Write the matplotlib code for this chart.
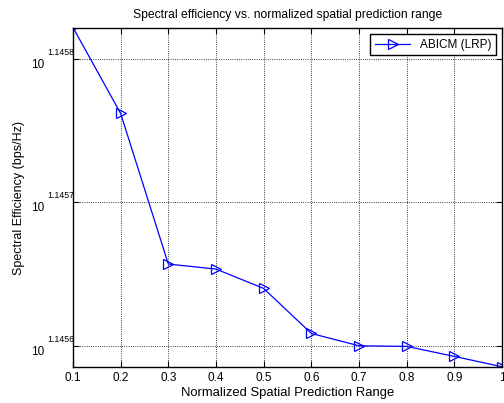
import numpy as np
import matplotlib
matplotlib.use("Agg")
import matplotlib.pyplot as plt
import matplotlib.transforms as mtransforms
from matplotlib.ticker import FixedLocator, NullLocator

plt.rcParams['font.family'] = ['Liberation Sans', 'DejaVu Sans']

# normalized spatial prediction range
x = [0.1, 0.2, 0.3, 0.4, 0.5, 0.6, 0.7, 0.8, 0.9, 1.0]
# log10 of spectral efficiency
log_se = [1.145822, 1.145762, 1.145657, 1.1456535, 1.145640, 1.1456086,
          1.1456, 1.1455996, 1.1455926, 1.1455854]
se = [10 ** v for v in log_se]

ytick_exp = ['1.1456', '1.1457', '1.1458']
xticks = [0.1, 0.2, 0.3, 0.4, 0.5, 0.6, 0.7, 0.8, 0.9, 1]
xticklabels = ['0.1', '0.2', '0.3', '0.4', '0.5', '0.6', '0.7', '0.8', '0.9', '1']

fig = plt.figure(figsize=(5.04, 4.03), dpi=100)
ax = fig.add_axes([0.1448, 0.0893, 0.8512, 0.8412])

ax.plot(x, se, color='blue', lw=0.9, marker='>', markersize=6.5,
        markerfacecolor='none', markeredgecolor='blue', markeredgewidth=0.9,
        label='ABICM (LRP)')

ax.set_yscale('log')
ax.set_xlim(0.1, 1)
ax.set_ylim(10 ** 1.1455852, 10 ** 1.1458216)
ytick_vals = [10 ** float(e) for e in ytick_exp]
ax.yaxis.set_major_locator(FixedLocator(ytick_vals))
ax.yaxis.set_minor_locator(NullLocator())
ax.set_yticklabels(['10'] * len(ytick_exp))
ax.set_xticks(xticks)
ax.set_xticklabels(xticklabels)

ax.grid(True, color='black', linestyle=':', lw=0.6)
ax.tick_params(direction='in', labelsize=8.5, length=4, top=True, right=True)
ax.tick_params(axis='y', labelsize=8.5, pad=21)
for lbl in ax.get_yticklabels():
    lbl.set_va('top')
for s in ax.spines.values():
    s.set_linewidth(1.0)

# MATLAB-style exponents next to the "10" tick labels
trans = mtransforms.blended_transform_factory(ax.transAxes, ax.transData)
for e, v in zip(ytick_exp, ytick_vals):
    ax.text(-26 / 428.0, v, e, transform=mtransforms.offset_copy(trans, fig=fig, x=0, y=2, units='dots'),
            fontsize=6.3, ha='left', va='bottom', clip_on=False)

ax.set_xlabel('Normalized Spatial Prediction Range', fontsize=9.4, labelpad=2)
ax.set_ylabel('Spectral Efficiency (bps/Hz)', fontsize=9, labelpad=4)
ax.set_title('Spectral efficiency vs. normalized spatial prediction range', fontsize=8.7, pad=7)

leg = ax.legend(loc='upper right', fontsize=8.5, fancybox=False, framealpha=1,
                edgecolor='black', borderaxespad=0.5, handlelength=3)
leg.get_frame().set_linewidth(1.0)

fig.savefig('out.png', dpi=100)
